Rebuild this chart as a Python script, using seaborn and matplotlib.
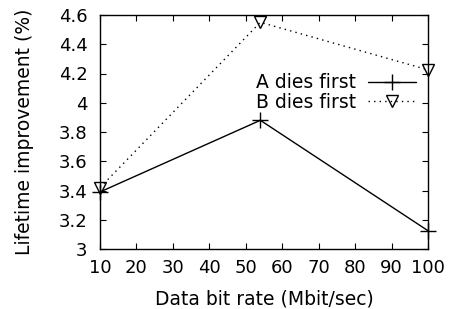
import pandas as pd
import matplotlib
matplotlib.use('Agg')
import matplotlib.pyplot as plt
import seaborn as sns

# values
rates = [10, 54, 100]
a_dies_first = [3.39, 3.88, 3.125]
b_dies_first = [3.42, 4.55, 4.225]
x_ticks = [10, 20, 30, 40, 50, 60, 70, 80, 90, 100]
y_ticks = [3.0, 3.2, 3.4, 3.6, 3.8, 4.0, 4.2, 4.4, 4.6]
y_labels = ['3', '3.2', '3.4', '3.6', '3.8', '4', '4.2', '4.4', '4.6']

sns.set_style('ticks')
plt.rcParams['font.family'] = ['DejaVu Sans']
plt.rcParams['text.color'] = 'black'
plt.rcParams['axes.labelcolor'] = 'black'

fig = plt.figure(figsize=(4.49, 3.09), dpi=100)
ax = fig.add_axes([100 / 449, 60 / 309, 328 / 449, 234 / 309])

sns.lineplot(x=rates, y=a_dies_first, color='black', linewidth=1.0,
             marker='+', markersize=11.5, markeredgewidth=1.0,
             markeredgecolor='black', label='A dies first', ax=ax, clip_on=False)
sns.lineplot(x=rates, y=b_dies_first, color='black', linewidth=1.0,
             linestyle=(0, (1, 3)), marker='v', markersize=9,
             markeredgewidth=1.0, markerfacecolor='none',
             markeredgecolor='black', label='B dies first', ax=ax, clip_on=False)

ax.set_xlim(10, 100)
ax.set_ylim(3.0, 4.6)
ax.set_xticks(x_ticks)
ax.set_yticks(y_ticks)
ax.set_yticklabels(y_labels)
ax.tick_params(direction='in', length=4, width=0.8, top=True, right=True,
               labelsize=13, colors='black', pad=7)
ax.tick_params(axis='y', pad=9)
for s in ax.spines.values():
    s.set_linewidth(1.0)
    s.set_color('black')

ax.set_xlabel('Data bit rate (Mbit/sec)', fontsize=13.5, labelpad=9)
ax.set_ylabel('Lifetime improvement (%)', fontsize=13.5, labelpad=18)

leg = ax.legend(loc='upper right', bbox_to_anchor=(0.963, 0.75), frameon=False,
                markerfirst=False, handlelength=2.56, handletextpad=0.64,
                labelspacing=0.02, borderaxespad=0, borderpad=0, fontsize=13.5)

fig.savefig('out.png', dpi=100)
